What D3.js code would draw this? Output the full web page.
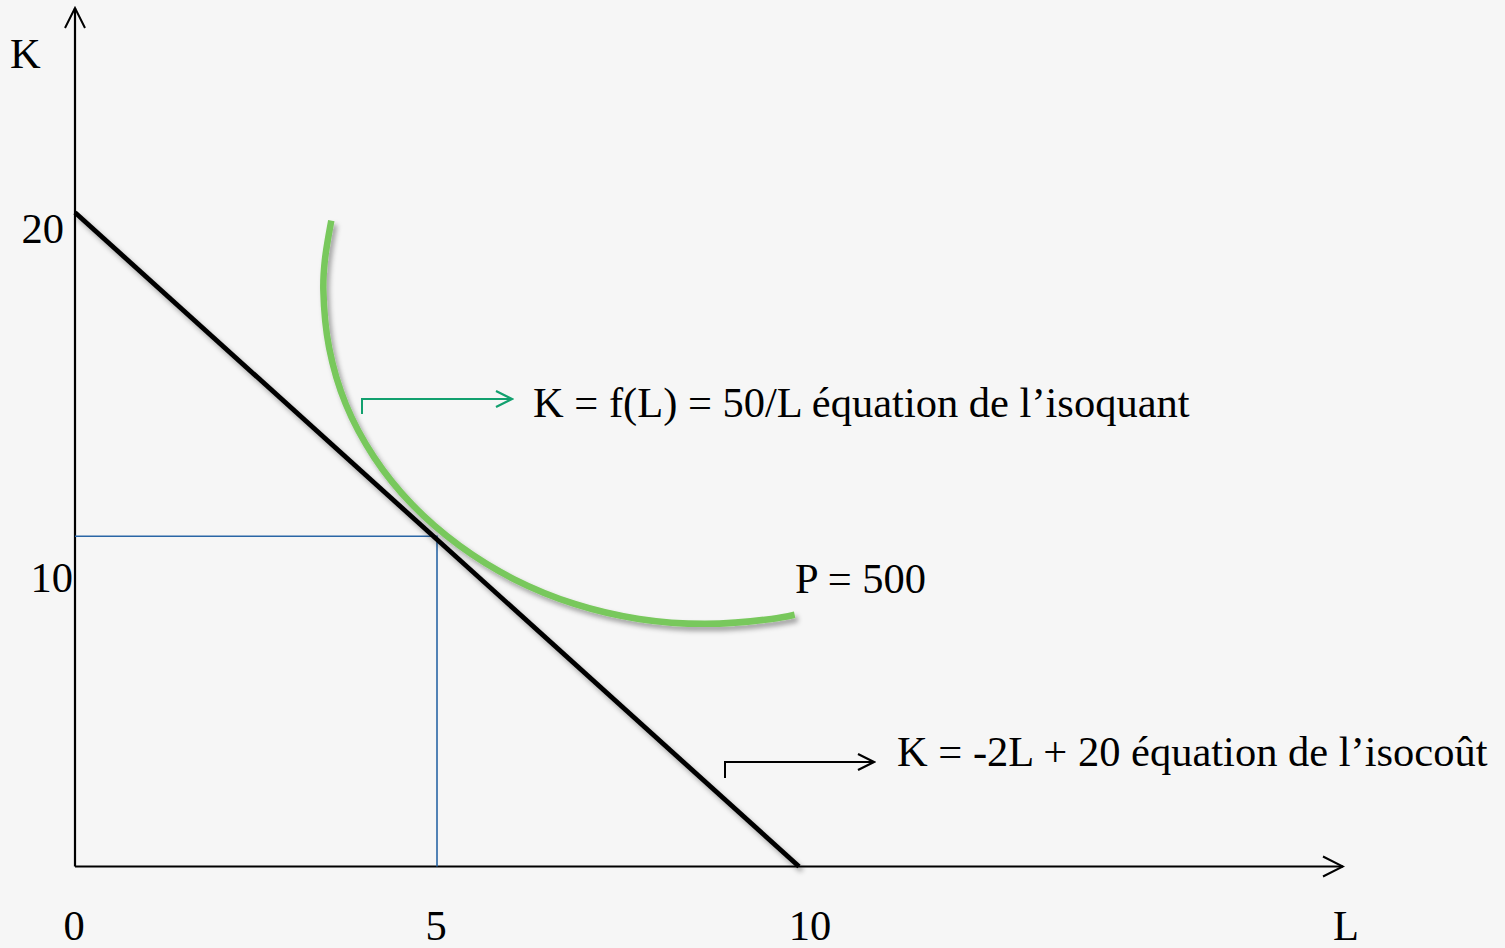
<!DOCTYPE html>
<html>
<head>
<meta charset="utf-8">
<script src="https://cdn.jsdelivr.net/npm/d3@7"></script>
<style>
  html, body { margin: 0; padding: 0; background: #f6f6f6; }
  svg { display: block; }
  text { font-family: "Liberation Serif", "Times New Roman", serif; fill: #000; }
</style>
</head>
<body>
<svg id="chart" width="1505" height="948"></svg>
<script>
// Isocost line K = -2L + 20 (end points)
const isocost = [{L: 0, K: 20}, {L: 10, K: 0}];

// Isoquant P = 500, traced as a smooth hand-drawn arc
const isoquantL = [3.54, 3.45, 3.43, 3.51, 3.74, 4.13, 4.66, 5.31, 6.06, 6.90, 7.79, 8.70, 9.62, 9.94];
const isoquantK = [19.75, 18.52, 17.63, 15.86, 14.14, 12.52, 11.06, 9.81, 8.79, 8.03, 7.57, 7.42, 7.57, 7.70];

// Optimum point (guide lines to the axes)
const optimum = {L: 5, K: 10.1};

// Tick labels
const xTicks = [0, 5, 10];
const yTicks = [10, 20];

// Annotations
const isoquantLabel = "K = f(L) = 50/L équation de l’isoquant";
const isocostLabel = "K = -2L + 20 équation de l’isocoût";
const outputLabel = "P = 500";

const svg = d3.select("#chart");
const W = 1505, H = 948;

const x = d3.scaleLinear().domain([0, 10]).range([75, 799]);
const y = d3.scaleLinear().domain([0, 20]).range([866.5, 212.5]);

// Soft drop shadow for the two main curves
const defs = svg.append("defs");
const f = defs.append("filter").attr("id", "shadow")
  .attr("x", "-10%").attr("y", "-10%").attr("width", "130%").attr("height", "130%");
f.append("feDropShadow").attr("dx", 3).attr("dy", 4).attr("stdDeviation", 2.5)
  .attr("flood-color", "#000").attr("flood-opacity", 0.35);

function openArrow(id, color) {
  defs.append("marker").attr("id", id)
    .attr("viewBox", "0 0 20 20").attr("refX", 18).attr("refY", 10)
    .attr("markerWidth", 20).attr("markerHeight", 20)
    .attr("markerUnits", "userSpaceOnUse").attr("orient", "auto")
    .append("path").attr("d", "M2,2 L18,10 L2,18")
    .attr("fill", "none").attr("stroke", color).attr("stroke-width", 2.2);
}
openArrow("arrowBlack", "#000");
openArrow("arrowGreen", "#12a06e");
defs.append("marker").attr("id", "axisArrow")
  .attr("viewBox", "0 0 24 24").attr("refX", 22).attr("refY", 12)
  .attr("markerWidth", 24).attr("markerHeight", 24)
  .attr("markerUnits", "userSpaceOnUse").attr("orient", "auto")
  .append("path").attr("d", "M2,2 L22,12 L2,22")
  .attr("fill", "none").attr("stroke", "#000").attr("stroke-width", 2);

svg.append("rect").attr("width", W).attr("height", H).attr("fill", "#f6f6f6");

// Axes with open arrowheads
svg.append("line")
  .attr("x1", x(0)).attr("y1", y(0)).attr("x2", x(0)).attr("y2", 8)
  .attr("stroke", "#000").attr("stroke-width", 2.2).attr("marker-end", "url(#axisArrow)");
svg.append("line")
  .attr("x1", x(0)).attr("y1", y(0)).attr("x2", 1343).attr("y2", y(0))
  .attr("stroke", "#000").attr("stroke-width", 2.2).attr("marker-end", "url(#axisArrow)");

// Guide lines from the optimum to the axes
svg.append("path")
  .attr("d", `M${x(0)},${y(optimum.K)} H${x(optimum.L)} V${y(0)}`)
  .attr("fill", "none").attr("stroke", "#2a66a6").attr("stroke-width", 1.6);

// Isocost line
const line = d3.line().x(d => x(d.L)).y(d => y(d.K));
svg.append("path").datum(isocost)
  .attr("d", line)
  .attr("fill", "none").attr("stroke", "#000").attr("stroke-width", 4.8)
  .attr("filter", "url(#shadow)");

// Isoquant curve
const isoquant = isoquantL.map((L, i) => ({L, K: isoquantK[i]}));
svg.append("path").datum(isoquant)
  .attr("d", d3.line().x(d => x(d.L)).y(d => y(d.K)).curve(d3.curveCatmullRom.alpha(0.5)))
  .attr("fill", "none").attr("stroke", "#78c85c").attr("stroke-width", 6.5)
  .attr("stroke-linecap", "butt")
  .attr("filter", "url(#shadow)");

// Tick labels
const fs = 42.5;
svg.selectAll(".xt").data(xTicks).join("text")
  .attr("class", "xt")
  .attr("x", d => x(d) + (d === 10 ? 11 : -1))
  .attr("y", 940)
  .attr("text-anchor", "middle")
  .attr("font-size", fs)
  .text(d => d);
const yNudge = {10: {dx: -2, dy: 52}, 20: {dx: -11, dy: 30}};
svg.selectAll(".yt").data(yTicks).join("text")
  .attr("class", "yt")
  .attr("x", d => x(0) + yNudge[d].dx)
  .attr("y", d => y(d) + yNudge[d].dy)
  .attr("text-anchor", "end")
  .attr("font-size", fs)
  .text(d => d);

// Axis titles
svg.append("text").attr("x", 10).attr("y", 68).attr("font-size", fs).text("K");
svg.append("text").attr("x", 1346).attr("y", 940).attr("text-anchor", "middle").attr("font-size", fs).text("L");

// Annotation arrows
svg.append("path")
  .attr("d", "M362,414 V399 H512")
  .attr("fill", "none").attr("stroke", "#12a06e").attr("stroke-width", 2)
  .attr("marker-end", "url(#arrowGreen)");
svg.append("path")
  .attr("d", "M725,778 V762 H874")
  .attr("fill", "none").attr("stroke", "#000").attr("stroke-width", 2)
  .attr("marker-end", "url(#arrowBlack)");

// Annotation texts
svg.append("text").attr("x", 533).attr("y", 417).attr("font-size", fs).text(isoquantLabel);
svg.append("text").attr("x", 795).attr("y", 593).attr("font-size", fs).text(outputLabel);
svg.append("text").attr("x", 897).attr("y", 766).attr("font-size", fs).text(isocostLabel);
</script>
</body>
</html>
